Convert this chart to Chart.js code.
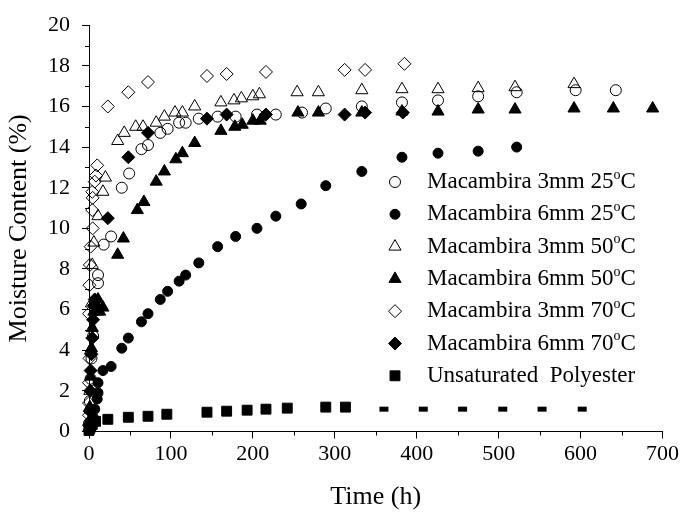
<!DOCTYPE html>
<html>
<head>
<meta charset="utf-8">
<script src="https://cdn.jsdelivr.net/npm/chart.js@4.4.0/dist/chart.umd.min.js"></script>
<style>
  html, body { margin: 0; padding: 0; background: #fff; }
  canvas { display: block; }
</style>
</head>
<body>
<canvas id="moistureChart" width="683" height="521"></canvas>
<script>
// series names, same order as the legend
const seriesNames = [
  'Macambira 3mm 25°C',
  'Macambira 6mm 25°C',
  'Macambira 3mm 50°C',
  'Macambira 6mm 50°C',
  'Macambira 3mm 70°C',
  'Macambira 6mm 70°C',
  'Unsaturated  Polyester'
];

// [time (h), moisture content (%)]
const m3mm25 = [[0,0.4],[1,1.5],[2,2.6],[3,3.6],[5,4.7],[11,7.3],[11,7.7],[18,9.2],[27,9.6],[40,12.0],[49,12.7],[64,13.9],[72,14.1],[87,14.7],[96,14.9],[110,15.2],[118,15.2],[134,15.4],[157,15.5],[179,15.5],[205,15.6],[228,15.6],[260,15.7],[289,15.9],[333,16.0],[382,16.2],[426,16.3],[475,16.5],[522,16.7],[594,16.8],[643,16.8]];
const m6mm25 = [[0,0.1],[1,0.3],[2,0.5],[5,0.7],[7,1.1],[10,1.6],[11,1.9],[11,2.4],[17,3.0],[27,3.2],[40,4.1],[48,4.6],[64,5.4],[72,5.8],[87,6.5],[96,6.9],[110,7.4],[118,7.7],[134,8.3],[157,9.1],[179,9.6],[205,10.0],[228,10.6],[259,11.2],[289,12.1],[333,12.8],[382,13.5],[426,13.7],[475,13.8],[522,14.0]];
const m3mm50 = [[0,0.5],[1,2.0],[2,4.0],[3,6.3],[4,8.2],[6,9.3],[11,10.6],[17,11.8],[20,12.5],[35,14.3],[43,14.7],[57,15.0],[66,15.0],[82,15.2],[92,15.5],[105,15.7],[114,15.7],[129,16.0],[161,16.2],[177,16.3],[186,16.4],[200,16.5],[208,16.6],[254,16.7],[280,16.7],[333,16.8],[382,16.85],[426,16.85],[475,16.9],[520,16.95],[592,17.1]];
const m6mm50 = [[0,0.2],[1,1.2],[2,2.7],[3,4.1],[4,5.1],[6,5.9],[8,6.3],[11,6.5],[13,5.9],[17,6.1],[35,8.7],[42,9.5],[59,10.9],[67,11.3],[82,12.3],[92,12.8],[106,13.4],[114,13.7],[129,14.2],[161,14.8],[178,15.0],[187,15.1],[200,15.3],[209,15.3],[255,15.7],[280,15.7],[333,15.7],[382,15.75],[426,15.75],[475,15.85],[520,15.85],[592,15.9],[640,15.9],[688,15.9]];
const m3mm70 = [[0,0.8],[0,1.4],[0,2.4],[0.5,3.6],[0,5.8],[0.5,7.2],[1,8.2],[2,9.1],[4.5,10.0],[4,10.9],[4.5,11.5],[4,11.8],[7,12.3],[8.5,12.6],[10,13.1],[23,16.0],[48,16.7],[72,17.2],[144,17.5],[168,17.6],[216,17.7],[312,17.8],[337,17.8],[385,18.1]];
const m6mm70 = [[0,0.3],[1,1.0],[1.5,2.0],[2,3.0],[3,3.8],[4,4.6],[5,5.5],[6,6.2],[7,6.5],[23,10.5],[48,13.5],[72,14.7],[144,15.4],[168,15.6],[216,15.6],[312,15.6],[337,15.7],[383,15.7]];
const polyester = [[0,0.05],[1,0.15],[2,0.25],[4,0.35],[8,0.5],[23,0.6],[48,0.7],[72,0.75],[95,0.85],[144,0.95],[168,1.0],[193,1.05],[216,1.1],[242,1.15],[289,1.2],[313,1.2],[360,1.1],[408,1.1],[456,1.1],[505,1.1],[553,1.1],[602,1.1]];

const allSeries = [m3mm25, m6mm25, m3mm50, m6mm50, m3mm70, m6mm70, polyester];

// axis ticks
const xMinorTicks = [50, 150, 250, 350, 450, 550, 650];
const yMinorTicks = [1, 3, 5, 7, 9, 11, 13, 15, 17, 19];

// marker look for each series
const markers = [
  { pointStyle: 'circle',   radius: 5.5, filled: false },
  { pointStyle: 'circle',   radius: 5,   filled: true },
  { pointStyle: 'triangle', radius: 7,   filled: false },
  { pointStyle: 'triangle', radius: 7,   filled: true },
  { pointStyle: 'rectRot',  radius: 6.5, filled: false },
  { pointStyle: 'rectRot',  radius: 6.5, filled: true },
  { pointStyle: 'rect',     radius: 7,   filled: true }
];
// the later polyester points look like short dashes in the figure
const dashFrom = 16;

const serif = "'Liberation Serif', 'Times New Roman', serif";

const datasets = allSeries.map((series, i) => {
  const m = markers[i];
  const ds = {
    label: seriesNames[i],
    data: series.map(p => ({ x: p[0], y: p[1] })),
    pointStyle: m.pointStyle,
    pointRadius: m.radius,
    pointBorderWidth: 1,
    pointBorderColor: '#000',
    pointBackgroundColor: m.filled ? '#000' : 'rgba(0,0,0,0)',
    showLine: false,
    clip: false
  };
  if (i === 6) {
    ds.pointStyle = ctx => ctx.dataIndex >= dashFrom ? 'line' : 'rect';
    ds.pointRadius = ctx => ctx.dataIndex >= dashFrom ? 4.5 : 7;
    ds.pointBorderWidth = ctx => ctx.dataIndex >= dashFrom ? 5 : 1;
  }
  return ds;
});

// small ticks between the labelled ones
const minorTicks = {
  id: 'minorTicks',
  afterDraw(chart) {
    const { ctx, chartArea, scales } = chart;
    ctx.save();
    ctx.strokeStyle = '#000';
    ctx.lineWidth = 1;
    ctx.beginPath();
    xMinorTicks.forEach(v => {
      const px = Math.round(scales.x.getPixelForValue(v)) + 0.5;
      ctx.moveTo(px, chartArea.bottom);
      ctx.lineTo(px, chartArea.bottom + 4);
    });
    yMinorTicks.forEach(v => {
      const py = Math.round(scales.y.getPixelForValue(v)) + 0.5;
      ctx.moveTo(chartArea.left - 4, py);
      ctx.lineTo(chartArea.left, py);
    });
    ctx.stroke();
    ctx.restore();
  }
};

// legend inside the plot, with the raised "o" of the degree sign
const insideLegend = {
  id: 'insideLegend',
  afterDraw(chart) {
    const ctx = chart.ctx;
    const markX = 395, textX = 427, top = 182, rowGap = 32.3;
    ctx.save();
    seriesNames.forEach((name, i) => {
      const y = top + i * rowGap;
      const m = markers[i];
      ctx.fillStyle = m.filled ? '#000' : 'rgba(0,0,0,0)';
      ctx.strokeStyle = '#000';
      ctx.lineWidth = 1;
      Chart.helpers.drawPoint(ctx, { pointStyle: m.pointStyle, radius: m.radius, rotation: 0, borderWidth: 1 }, markX, y);

      ctx.fillStyle = '#000';
      ctx.textBaseline = 'middle';
      ctx.textAlign = 'left';
      const parts = name.split('°');
      ctx.font = '23px ' + serif;
      ctx.fillText(parts[0], textX, y);
      if (parts.length > 1) {
        let x = textX + ctx.measureText(parts[0]).width;
        ctx.font = '14px ' + serif;
        ctx.fillText('o', x, y - 7);
        x += ctx.measureText('o').width;
        ctx.font = '23px ' + serif;
        ctx.fillText(parts[1], x, y);
      }
    });
    ctx.restore();
  }
};

new Chart(document.getElementById('moistureChart'), {
  type: 'scatter',
  data: { datasets },
  options: {
    responsive: false,
    animation: false,
    layout: { padding: { left: 0, right: 20.5, top: 18, bottom: 0 } },
    plugins: {
      legend: { display: false },
      tooltip: { enabled: false }
    },
    scales: {
      x: {
        type: 'linear',
        min: 0,
        max: 700,
        ticks: { stepSize: 100, color: '#000', padding: 3, font: { family: serif, size: 22 } },
        grid: { display: true, drawOnChartArea: false, drawTicks: true, tickLength: 7, color: '#000' },
        border: { display: true, color: '#000', width: 1 },
        title: {
          display: true,
          text: 'Time (h)',
          color: '#000',
          font: { family: serif, size: 26 },
          padding: { top: 0, bottom: 8 }
        },
        afterFit(scale) { scale.height = 89.5; }
      },
      y: {
        type: 'linear',
        min: 0,
        max: 20,
        ticks: { stepSize: 2, color: '#000', padding: 12, font: { family: serif, size: 22 } },
        grid: { display: true, drawOnChartArea: false, drawTicks: true, tickLength: 7, color: '#000' },
        border: { display: true, color: '#000', width: 1 },
        title: {
          display: true,
          text: 'Moisture Content (%)',
          color: '#000',
          font: { family: serif, size: 26 },
          padding: { top: 4, bottom: 0 }
        },
        afterFit(scale) { scale.width = 89; }
      }
    }
  },
  plugins: [minorTicks, insideLegend]
});
</script>
</body>
</html>
